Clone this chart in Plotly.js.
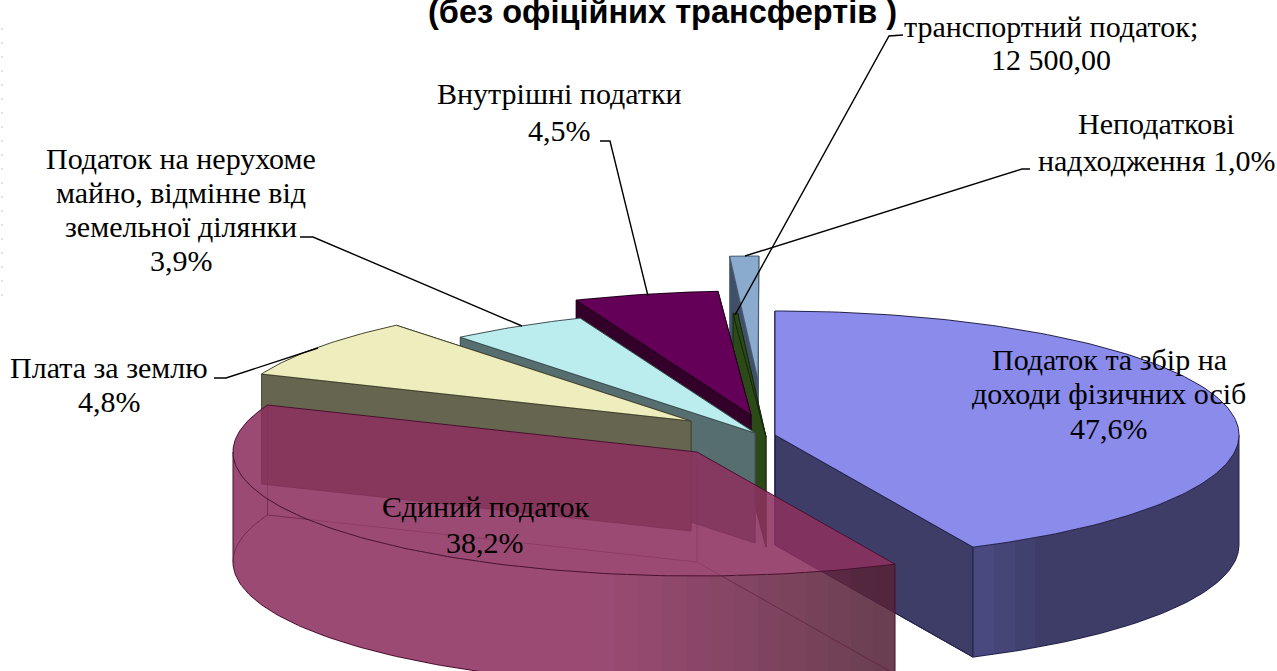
<!DOCTYPE html>
<html><head><meta charset="utf-8">
<script src="https://cdn.plot.ly/plotly-3.0.1.min.js"></script>
<style>html,body{margin:0;padding:0;background:#fff;overflow:hidden}#c{width:1277px;height:671px}
#c path.js-fill{shape-rendering:crispEdges}</style>
</head><body><div id="c"></div>
<script>
// ---------- data ----------
const categories = ["Податок та збір на доходи фізичних осіб","Єдиний податок","Плата за землю",
  "Податок на нерухоме майно, відмінне від земельної ділянки","Внутрішні податки","транспортний податок","Неподаткові надходження"];
const sharePct = [47.6, 38.2, 4.8, 3.9, 4.5, 0.2, 1.0];
const transportValue = "12 500,00";
const titleText = "(без офіційних трансфертів )";

// ---------- view of the exploded 3-D pie ----------
const viewScale = [0.903, 1.0, 1.638, 1.232, 1.115, 0.8, 1.0]; // perspective foreshortening of each sweep
const pull = [[27,11],[-51,28],[-57,-3],[7,9],[3,-9],[18,13],[10,-44]]; // explosion of each slice
const centre = [748,424], rx = 464, ry = 124, depth = 110;
const redA = .87;
const topFill  = ["#8B8BEB",`rgba(140,48,94,${redA})`,"#EEEDBE","#BBEDEE","#650058","#2C4A17","#8AAACE"];
const wallFill = ["#3D3D68",`rgba(140,48,94,${redA})`,"#666650","#566E70","#320029","#2C4A17","#3F5068"];
const edge     = ["#23234a","#4a1030","#444430","#3c5052","#1e0018","#16280c","#4a5a70"];
const drawOrder = [6,5,4,3,2,0,1];

const traces = [];
const rad = d => d*Math.PI/180;
let acc = 0;
const slices = sharePct.map((v,i)=>{
  const a0 = acc; acc += v*3.6*viewScale[i];
  return {i, a0, a1: acc, ax: centre[0]+pull[i][0], ay: centre[1]+pull[i][1]};
});
const rim = (s,a,dz=0)=>[s.ax+rx*Math.sin(rad(a)), s.ay-ry*Math.cos(rad(a))+dz];
const arc = (s,a,b,dz=0)=>{const p=[],n=Math.max(2,Math.ceil(Math.abs(b-a)));
  for(let k=0;k<=n;k++)p.push(rim(s,a+(b-a)*k/n,dz));return p;};
function poly(pts,fill,line,w=1){
  traces.push({type:"scatter",mode:"lines",x:pts.map(p=>p[0]),y:pts.map(p=>p[1]),
    fill:fill?"toself":"none",fillcolor:fill||undefined,
    line:{color:line||"rgba(0,0,0,0)",width:line?w:0},hoverinfo:"skip"});
}
function mix(a,b,t){return a.map((v,k)=>v+(b[k]-v)*t);}
function outerWall(s,a,b,shade){
  const bands=Math.max(1,Math.ceil((b-a)/3));
  for(let k=0;k<bands;k++){
    const u=a+(b-a)*k/bands,w=a+(b-a)*(k+1)/bands;
    const pts=arc(s,u,w).concat(arc(s,w,u,depth));
    poly(pts.concat([pts[0]]),shade(rim(s,(u+w)/2)[0]));
  }
}
const shadeBlue = x=>{const t=Math.min(1,Math.max(0,(x-973)/70));
  return `rgb(${mix([75,75,132],[61,61,104],t).map(Math.round)})`;};
const shadeRed = x=>{const t=Math.min(1,Math.max(0,(x-600)/295));
  return `rgba(${mix([140,48,94],[83,34,54],t).map(Math.round)},${redA})`;};

drawOrder.forEach(i=>{
  const s=slices[i], apex=[s.ax,s.ay], low=[s.ax,s.ay+depth];
  const r0=rim(s,s.a0), r1=rim(s,s.a1), r0l=rim(s,s.a0,depth), r1l=rim(s,s.a1,depth);
  if(i===1){
    outerWall(s,s.a0,270,shadeRed);
    poly(arc(s,s.a0,270,depth),null,edge[1],1);
    poly([rim(s,270),rim(s,270,depth)],null,edge[1],1);
    // hidden edges seen through the translucent slice
    const h="rgba(90,20,60,.55)";
    poly([r0l,low,r1l],null,h,1);
    poly([apex,low],null,h,1);
    poly([r1,r1l],null,h,1);
    poly(arc(s,270,s.a1,depth),null,h,1);
    poly([r0,r0l],null,edge[1],1);
  } else {
    poly([apex,r1,r1l,low,apex],wallFill[i],edge[i],1);
    poly([apex,r0,r0l,low,apex],wallFill[i],edge[i],1);
    if(i===0){
      outerWall(s,90,s.a1,shadeBlue);
      poly(arc(s,90,s.a1,depth),null,edge[0],1);
      poly([r1,r1l],null,edge[0],1);
      poly([rim(s,90),rim(s,90,depth)],null,edge[0],1);
      poly([r1l,low],null,edge[0],1);
    }
  }
  poly([apex].concat(arc(s,s.a0,s.a1)).concat([apex]),topFill[i],edge[i],1);
});

// ---------- leader lines ----------
const leaders = [
  [[903,35],[889,36],[735,315]],
  [[1030,169],[1022,169],[745,256]],
  [[600,141],[610,141],[648,296]],
  [[300,237],[313,237],[522,326]],
  [[214,378],[226,378],[318,348]]
];
leaders.forEach(l=>poly(l,null,"#000",1.4));
// scan residue down the left margin
traces.push({type:"scatter",mode:"lines",x:[2,2],y:[28,302],line:{color:"#c4c4c4",width:1,dash:"2px,12px"},hoverinfo:"skip"});

// ---------- labels ----------
const labelFont={family:"Liberation Serif, Times New Roman, serif",size:30,color:"#000"};
const annotations=[];
function label(x,y,lines,gap=34.5){lines.forEach((t,k)=>annotations.push({xref:"x",yref:"y",x,y:y+k*gap,text:t,
  showarrow:false,xanchor:"center",yanchor:"middle",font:labelFont}));}
label(1051,26,["транспортний податок;",transportValue],33.5);
label(559,93,["Внутрішні податки","4,5%"],37);
label(1156,123,["Неподаткові","надходження 1,0%"],37);
label(181,158,["Податок на нерухоме","майно, відмінне від","земельної ділянки","3,9%"],34);
label(109,367,["Плата за землю","4,8%"]);
label(1109,359,["Податок та збір на","доходи фізичних осіб","47,6%"]);
label(485,506,["Єдиний податок","38,2%"],36);
annotations.push({xref:"x",yref:"y",x:662,y:12,text:titleText,showarrow:false,xanchor:"center",yanchor:"middle",
   font:{family:"Liberation Sans, Arial, sans-serif",size:32.5,color:"#000",weight:700}});
Plotly.newPlot("c",traces,{
  width:1277,height:671,margin:{l:0,r:0,t:0,b:0},paper_bgcolor:"#fff",plot_bgcolor:"#fff",showlegend:false,
  xaxis:{range:[0,1277],visible:false,fixedrange:true},
  yaxis:{range:[671,0],visible:false,fixedrange:true},
  annotations
},{displayModeBar:false,staticPlot:true});
</script></body></html>
